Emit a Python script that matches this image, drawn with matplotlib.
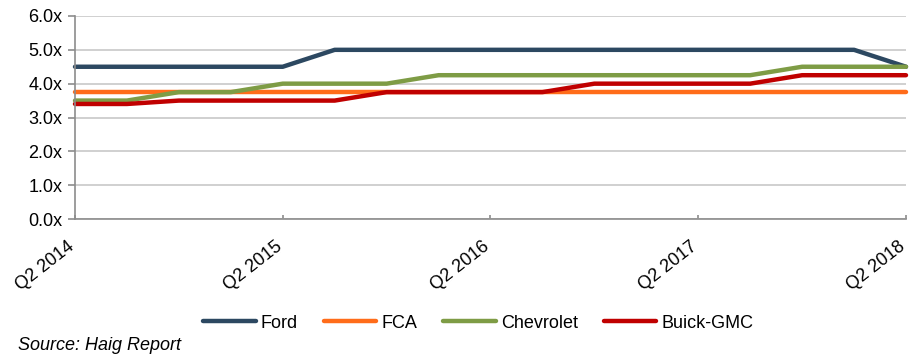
import matplotlib.pyplot as plt
from matplotlib.transforms import ScaledTranslation

plt.rcParams['font.family'] = ['Liberation Sans', 'DejaVu Sans']

# quarterly points, Q2 2014 .. Q2 2018
quarters = list(range(17))
tick_pos = [0, 4, 8, 12, 16]
tick_labels = ["Q2 2014", "Q2 2015", "Q2 2016", "Q2 2017", "Q2 2018"]

ford = [4.5, 4.5, 4.5, 4.5, 4.5, 5.0, 5.0, 5.0, 5.0, 5.0, 5.0, 5.0, 5.0, 5.0, 5.0, 5.0, 4.5]
fca = [3.75] * 17
chevrolet = [3.5, 3.5, 3.75, 3.75, 4.0, 4.0, 4.0, 4.25, 4.25, 4.25, 4.25, 4.25, 4.25, 4.25, 4.5, 4.5, 4.5]
buick_gmc = [3.4, 3.4, 3.5, 3.5, 3.5, 3.5, 3.75, 3.75, 3.75, 3.75, 4.0, 4.0, 4.0, 4.0, 4.25, 4.25, 4.25]

fig = plt.figure(figsize=(9.11, 3.58), dpi=100)
ax = fig.add_axes([75/911, 1-219/358, (906-75)/911, (219-16)/358])

kw = dict(lw=3.2, solid_capstyle='round', clip_on=False)
ax.plot(quarters, ford, color="#2C4861", label="Ford", **kw)
ax.plot(quarters, fca, color="#FF6C1A", label="FCA", **kw)
ax.plot(quarters, chevrolet, color="#7E9C45", label="Chevrolet", **kw)
ax.plot(quarters, buick_gmc, color="#C00000", label="Buick-GMC", **kw)

ax.set_xlim(0, 16)
ax.set_ylim(0, 6)
ax.set_yticks([0, 1, 2, 3, 4, 5, 6])
ax.set_yticklabels(["%.1fx" % v for v in [0, 1, 2, 3, 4, 5, 6]], fontsize=13)
ax.set_xticks(tick_pos)
ax.grid(axis='y', color="#c8c8c8", lw=1.2)
ax.set_axisbelow(True)
for s in ['top', 'right']:
    ax.spines[s].set_visible(False)
for s in ['left', 'bottom']:
    ax.spines[s].set_color("#8c8c8c")
    ax.spines[s].set_linewidth(1.2)
ax.tick_params(axis='y', color="#8c8c8c", length=5, width=1.2, pad=4)
ax.tick_params(axis='x', color="#8c8c8c", length=3, width=1.2, direction='in', pad=14)

ax.set_xticklabels(tick_labels, rotation=38, ha='right', va='top', rotation_mode='anchor', fontsize=13)
# nudge the rotated labels left so the last one stays inside the figure
# (done after tick_params, which resets label transforms)
shift = ScaledTranslation(-8/100, 0, fig.dpi_scale_trans)
for lab in ax.get_xticklabels():
    lab.set_transform(lab.get_transform() + shift)

fig.legend(loc='center', bbox_to_anchor=(0.525, 1-323/358), ncol=4, frameon=False,
           fontsize=13, handlelength=2.9, handletextpad=0.28, columnspacing=1.45)
fig.text(18/911, 1-345/358, "Source: Haig Report", fontsize=13, style='italic', va='center')

fig.savefig("out.png", dpi=100)
